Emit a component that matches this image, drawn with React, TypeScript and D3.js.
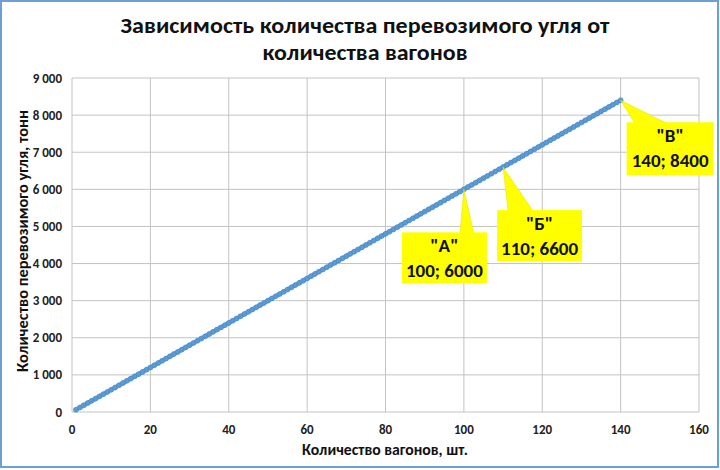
import React from "react";
import * as d3 from "d3";

const wagons: number[] = [
  1, 2, 3, 4, 5, 6, 7, 8, 9, 10, 11, 12, 13, 14, 15, 16, 17, 18, 19, 20,
  21, 22, 23, 24, 25, 26, 27, 28, 29, 30, 31, 32, 33, 34, 35, 36, 37, 38, 39, 40,
  41, 42, 43, 44, 45, 46, 47, 48, 49, 50, 51, 52, 53, 54, 55, 56, 57, 58, 59, 60,
  61, 62, 63, 64, 65, 66, 67, 68, 69, 70, 71, 72, 73, 74, 75, 76, 77, 78, 79, 80,
  81, 82, 83, 84, 85, 86, 87, 88, 89, 90, 91, 92, 93, 94, 95, 96, 97, 98, 99, 100,
  101, 102, 103, 104, 105, 106, 107, 108, 109, 110, 111, 112, 113, 114, 115, 116, 117, 118, 119, 120,
  121, 122, 123, 124, 125, 126, 127, 128, 129, 130, 131, 132, 133, 134, 135, 136, 137, 138, 139, 140,
];
const coal: number[] = [
  60, 120, 180, 240, 300, 360, 420, 480, 540, 600, 660, 720, 780, 840, 900, 960, 1020, 1080, 1140, 1200,
  1260, 1320, 1380, 1440, 1500, 1560, 1620, 1680, 1740, 1800, 1860, 1920, 1980, 2040, 2100, 2160, 2220, 2280, 2340, 2400,
  2460, 2520, 2580, 2640, 2700, 2760, 2820, 2880, 2940, 3000, 3060, 3120, 3180, 3240, 3300, 3360, 3420, 3480, 3540, 3600,
  3660, 3720, 3780, 3840, 3900, 3960, 4020, 4080, 4140, 4200, 4260, 4320, 4380, 4440, 4500, 4560, 4620, 4680, 4740, 4800,
  4860, 4920, 4980, 5040, 5100, 5160, 5220, 5280, 5340, 5400, 5460, 5520, 5580, 5640, 5700, 5760, 5820, 5880, 5940, 6000,
  6060, 6120, 6180, 6240, 6300, 6360, 6420, 6480, 6540, 6600, 6660, 6720, 6780, 6840, 6900, 6960, 7020, 7080, 7140, 7200,
  7260, 7320, 7380, 7440, 7500, 7560, 7620, 7680, 7740, 7800, 7860, 7920, 7980, 8040, 8100, 8160, 8220, 8280, 8340, 8400,
];

const xTicks: number[] = [0, 20, 40, 60, 80, 100, 120, 140, 160];
const yTicks: number[] = [0, 1000, 2000, 3000, 4000, 5000, 6000, 7000, 8000, 9000];

const calloutNames: string[] = ['"А"', '"Б"', '"В"'];
const calloutX: number[] = [100, 110, 140];
const calloutY: number[] = [6000, 6600, 8400];

const titleLines: string[] = [
  "Зависимость количества перевозимого угля от",
  "количества вагонов",
];
const xTitle = "Количество вагонов, шт.";
const yTitle = "Количество перевозимого угля, тонн";

const W = 720;
const H = 470;
const left = 72;
const right = 699;
const top = 78;
const bottom = 412;

const calloutBoxes = [
  { dx: -62, dy: 43, w: 85, h: 51, b0: 58, b1: 72 },
  { dx: -6, dy: 43, w: 85, h: 51, b0: 11, b1: 36 },
  { dx: 6, dy: 22, w: 87, h: 53, b0: 8, b1: 40 },
];

export default function App() {
  const x = d3.scaleLinear().domain([0, 160]).range([left, right]);
  const y = d3.scaleLinear().domain([0, 9000]).range([bottom, top]);
  const pts: [number, number][] = wagons.map((w, i) => [w, coal[i]]);
  const line = d3
    .line<[number, number]>()
    .x((d) => x(d[0]))
    .y((d) => y(d[1]));
  const fmt = (v: number) => d3.format(",")(v).replace(/,/g, " ");
  const font = "Calibri, Carlito, 'Open Sans', 'Liberation Sans', sans-serif";

  return (
    <svg
      width={W}
      height={H}
      style={{ position: "absolute", left: 0, top: 0 }}
      fontFamily={font}
    >
      <rect x={0} y={0} width={W} height={H} fill="#ffffff" />
      <rect x={1} y={1} width={717} height={466} fill="#ffffff" stroke="#6d9fd0" strokeWidth={2} />

      {titleLines.map((t, i) => (
        <text
          key={i}
          x={365}
          y={33 + i * 27}
          textAnchor="middle"
          fontWeight="bold"
          fontSize={22}
          fill="#111"
          textLength={i === 0 ? 489 : 205}
          lengthAdjust="spacingAndGlyphs"
        >
          {t}
        </text>
      ))}

      {/* grid */}
      {yTicks.map((t) => (
        <line key={"gy" + t} x1={left} x2={right} y1={y(t)} y2={y(t)} stroke="#c3c3c3" strokeWidth={1} />
      ))}
      {xTicks.map((t) => (
        <line key={"gx" + t} x1={x(t)} x2={x(t)} y1={top} y2={bottom} stroke="#c3c3c3" strokeWidth={1} />
      ))}

      {/* tick labels */}
      {yTicks.map((t) => (
        <text
          key={"ty" + t}
          x={62}
          y={y(t) + 4.5}
          textAnchor="end"
          fontWeight="bold"
          fontSize={13}
          fill="#222"
        >
          {fmt(t)}
        </text>
      ))}
      {xTicks.map((t) => (
        <text
          key={"tx" + t}
          x={x(t)}
          y={434}
          textAnchor="middle"
          fontWeight="bold"
          fontSize={13}
          fill="#222"
        >
          {t}
        </text>
      ))}

      {/* axis titles */}
      <text
        x={385}
        y={455}
        textAnchor="middle"
        fontWeight="bold"
        fontSize={15}
        fill="#111"
        textLength={166}
        lengthAdjust="spacingAndGlyphs"
      >
        {xTitle}
      </text>
      <text
        transform={`translate(28,241) rotate(-90)`}
        textAnchor="middle"
        fontWeight="bold"
        fontSize={15}
        fill="#111"
        textLength={262}
        lengthAdjust="spacingAndGlyphs"
      >
        {yTitle}
      </text>

      {/* series */}
      <path d={line(pts) || ""} fill="none" stroke="#5b9bd5" strokeWidth={4.2} strokeLinejoin="round" />
      {pts.map((p, i) => (
        <circle key={"c" + i} cx={x(p[0])} cy={y(p[1])} r={2.5} fill="#5b9bd5" stroke="#4a88c6" strokeWidth={0.6} />
      ))}

      {/* callouts */}
      {calloutNames.map((name, i) => {
        const px = x(calloutX[i]);
        const py = y(calloutY[i]);
        const b = calloutBoxes[i];
        const bx = px + b.dx;
        const by = py + b.dy;
        return (
          <g key={"co" + i}>
            <path
              d={`M${px},${py} L${bx + b.b0},${by + 1} L${bx + b.b1},${by + 1} Z`}
              fill="#ffff00"
              stroke="#e0e000"
              strokeWidth={0.5}
            />
            <rect x={bx} y={by} width={b.w} height={b.h} fill="#ffff00" />
            <text
              x={bx + b.w / 2}
              y={by + 20}
              textAnchor="middle"
              fontWeight="bold"
              fontSize={19}
              fill="#111"
            >
              {name}
            </text>
            <text
              x={bx + b.w / 2}
              y={by + 45}
              textAnchor="middle"
              fontWeight="bold"
              fontSize={19}
              fill="#111"
            >
              {`${calloutX[i]}; ${calloutY[i]}`}
            </text>
          </g>
        );
      })}
    </svg>
  );
}
